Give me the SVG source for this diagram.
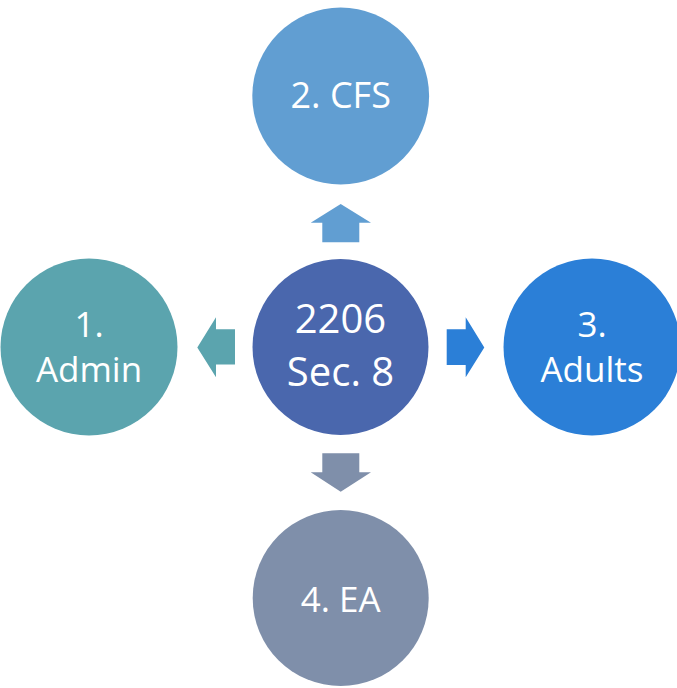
<svg xmlns="http://www.w3.org/2000/svg" width="677" height="688" viewBox="0 0 677 688">
<style>
  .lbl { font-family: "Open Sans", "Noto Sans", sans-serif; fill: #ffffff; text-anchor: middle; }
  .big { font-size: 40px; }
  .sm { font-size: 35px; }
</style>
<rect width="677" height="688" fill="#ffffff"/>
<g id="connectors">
  <polygon points="340.7,204 371,222.7 359.3,222.7 359.3,242.3 322.3,242.3 322.3,222.7 310.7,222.7" fill="#619ED2"/>
  <polygon points="197.3,347.5 216,317.3 216,329.3 235,329.3 235,364.5 216,364.5 216,377.3" fill="#5BA4AE"/>
  <polygon points="484.3,347.5 465.7,317.3 465.7,329.3 446.7,329.3 446.7,365 465.7,365 465.7,377.3" fill="#2B7FD7"/>
  <polygon points="340.7,491.7 371,472.3 359.3,472.3 359.3,453.3 322.3,453.3 322.3,472.3 310.7,472.3" fill="#7F8FAA"/>
</g>
<g id="center">
  <circle cx="340.5" cy="347" r="88" fill="#4A67AD"/>
  <text class="lbl big" x="340.5" y="333">2206</text>
  <text class="lbl big" x="340.5" y="386">Sec. 8</text>
</g>
<g id="node2">
  <circle cx="340.7" cy="96" r="88.4" fill="#619ED2"/>
  <text class="lbl" x="340.7" y="108" font-size="36">2. CFS</text>
</g>
<g id="node1">
  <circle cx="89" cy="347" r="88.5" fill="#5BA4AE"/>
  <text class="lbl sm" x="89" y="337">1.</text>
  <text class="lbl sm" x="89" y="381.7">Admin</text>
</g>
<g id="node3">
  <circle cx="592" cy="347" r="88.5" fill="#2B7FD7"/>
  <text class="lbl sm" x="592" y="337">3.</text>
  <text class="lbl sm" x="592" y="382">Adults</text>
</g>
<g id="node4">
  <circle cx="340.7" cy="598" r="88" fill="#7F8FAA"/>
  <text class="lbl sm" x="340.7" y="611.7">4. EA</text>
</g>
</svg>
